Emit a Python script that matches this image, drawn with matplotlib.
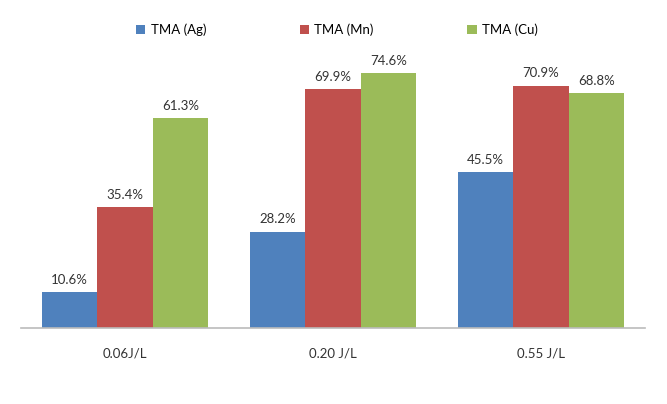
import matplotlib
matplotlib.use("Agg")
import matplotlib.pyplot as plt
import numpy as np

categories = ["0.06J/L", "0.20 J/L", "0.55 J/L"]
series_names = ["TMA (Ag)", "TMA (Mn)", "TMA (Cu)"]
ag = [10.6, 28.2, 45.5]
mn = [35.4, 69.9, 70.9]
cu = [61.3, 74.6, 68.8]
colors = ["#4F81BD", "#C0504D", "#9BBB59"]

plt.rcParams['font.family'] = ['Lato', 'DejaVu Sans']

fig = plt.figure(figsize=(6.67, 4.04), dpi=100)
ax = fig.add_axes([21/667, 76/404, 624/667, 273.6/404])

x = np.arange(len(categories))
w = 0.267
for i, (vals, name, c) in enumerate(zip([ag, mn, cu], series_names, colors)):
    bars = ax.bar(x + (i - 1) * w, vals, width=w, color=c, label=name)
    for b, v in zip(bars, vals):
        ax.text(b.get_x() + b.get_width() / 2, v + 1.8, f"{v:.1f}%",
                ha="center", va="bottom", fontsize=9.5, color="#333333")

ax.set_xlim(-0.5, 2.5)
ax.set_ylim(0, 80)
ax.set_yticks([])
ax.set_xticks(x)
ax.set_xticklabels(categories, fontsize=9.5, color="#333333")
ax.tick_params(axis="x", length=0, pad=14)
for s in ["top", "right", "left"]:
    ax.spines[s].set_visible(False)
ax.spines["bottom"].set_color("#BBBBBB")
ax.spines["bottom"].set_linewidth(1.2)

handles, labels = ax.get_legend_handles_labels()
fig.legend(handles, labels, loc="center", bbox_to_anchor=(337/667, 1 - 30/404),
           ncol=3, frameon=False, fontsize=9.5, handlelength=0.7, handleheight=0.7,
           columnspacing=7.1, handletextpad=0.4)

fig.savefig("out.png", dpi=100)
